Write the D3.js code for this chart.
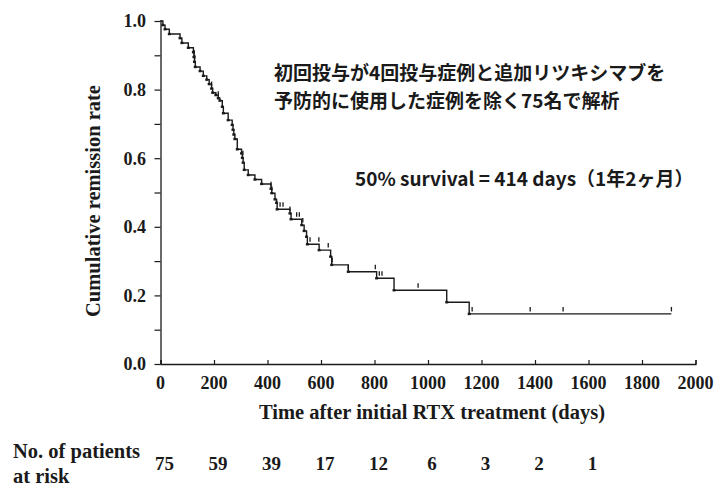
<!DOCTYPE html>
<html>
<head>
<meta charset="utf-8">
<script src="https://cdn.jsdelivr.net/npm/d3@7"></script>
<style>
  html, body { margin: 0; padding: 0; background: #fff; }
  svg { display: block; }
  .serif { font-family: "Liberation Serif", "Times New Roman", serif; font-weight: bold; fill: #1a1a1a; }
  .jp { font-family: "Noto Sans CJK JP", sans-serif; font-weight: bold; fill: #1a1a1a; }
</style>
</head>
<body>
<svg id="chart" width="720" height="487"></svg>
<script>
// Kaplan–Meier steps: day of each drop and the remission rate after it
const stepDays = [9, 17, 33, 73, 80, 104, 123, 125, 127, 130, 148, 160, 173, 182, 191, 195,
  207, 216, 222, 231, 235, 253, 268, 271, 274, 278, 287, 303, 306, 309, 313, 328, 353, 378,
  413, 416, 428, 434, 436, 484, 488, 528, 537, 546, 549, 593, 636, 640, 702, 808, 873, 1070, 1154];
const stepSurv = [0.988, 0.976, 0.962, 0.950, 0.936, 0.922, 0.909, 0.895, 0.881, 0.866, 0.854, 0.840,
  0.829, 0.816, 0.803, 0.791, 0.784, 0.775, 0.768, 0.750, 0.731, 0.711, 0.697, 0.683, 0.669, 0.656,
  0.626, 0.614, 0.601, 0.587, 0.566, 0.551, 0.538, 0.525, 0.511, 0.498, 0.480, 0.470, 0.451, 0.439,
  0.422, 0.405, 0.388, 0.371, 0.349, 0.332, 0.313, 0.289, 0.269, 0.250, 0.215, 0.180, 0.146];
// Censored observations (days)
const censorDays = [126, 128, 191, 216, 308, 413, 416, 447, 458, 484, 509, 519, 532, 559, 592, 627,
  642, 702, 803, 818, 828, 963, 1165, 1382, 1505, 1910];
const lastFollowUp = 1910;

const xTickValues = [0, 200, 400, 600, 800, 1000, 1200, 1400, 1600, 1800, 2000];
const yTickValues = [0.0, 0.2, 0.4, 0.6, 0.8, 1.0];
const yMinorTicks = [0.1, 0.3, 0.5, 0.7, 0.9];

const atRiskDays = [0, 200, 400, 600, 800, 1000, 1200, 1400, 1600];
const atRiskCounts = [75, 59, 39, 17, 12, 6, 3, 2, 1];

const noteLines = ["初回投与が4回投与症例と追加リツキシマブを", "予防的に使用した症例を除く75名で解析"];
const medianNote = "50% survival = 414 days（1年2ヶ月）";

const svg = d3.select("#chart");
const ink = "#1a1a1a";

const x = d3.scaleLinear().domain([0, 2000]).range([160.5, 695.5]);
const y = d3.scaleLinear().domain([0, 1]).range([364, 21]);

// Axes
const xAxis = d3.axisBottom(x).tickValues(xTickValues).tickSize(-4).tickFormat("");
const gx = svg.append("g").attr("transform", `translate(0,${y(0)})`).call(xAxis);
const yAxis = d3.axisLeft(y).tickValues(yTickValues.concat(yMinorTicks)).tickSize(6).tickFormat("");
const gy = svg.append("g").attr("transform", `translate(${x(0)},0)`).call(yAxis);
[gx, gy].forEach(g => {
  g.select(".domain").attr("stroke", ink).attr("stroke-width", 1.3);
  g.selectAll(".tick line").attr("stroke", ink).attr("stroke-width", 1.2);
});
gy.select(".domain").attr("d", `M0.5,${y(0)}V${y(1) - 1}`);

// Tick labels
svg.append("g").selectAll("text").data(xTickValues).join("text")
  .attr("class", "serif").attr("x", d => x(d)).attr("y", 389)
  .attr("text-anchor", "middle").attr("font-size", 18).text(d => d);
svg.append("g").selectAll("text").data(yTickValues).join("text")
  .attr("class", "serif").attr("x", 146).attr("y", d => y(d)).attr("dy", "0.35em")
  .attr("text-anchor", "end").attr("font-size", 18).text(d => d.toFixed(1));

// Axis titles
svg.append("text").attr("class", "serif").attr("x", 432).attr("y", 419)
  .attr("text-anchor", "middle").attr("font-size", 20.5)
  .text("Time after initial RTX treatment (days)");
svg.append("text").attr("class", "serif")
  .attr("transform", "translate(100,201) rotate(-90)")
  .attr("text-anchor", "middle").attr("font-size", 20.5)
  .text("Cumulative remission rate");

// Survival step curve
const pts = [[0, 1]].concat(stepDays.map((d, i) => [d, stepSurv[i]]));
pts.push([lastFollowUp, stepSurv[stepSurv.length - 1]]);
const line = d3.line().x(d => x(d[0])).y(d => y(d[1])).curve(d3.curveStepAfter);
svg.append("path").attr("d", line(pts)).attr("fill", "none")
  .attr("stroke", ink).attr("stroke-width", 1.4);

// Small blobs at the foot of each drop
svg.append("g").selectAll("rect").data(stepDays.map((d, i) => [d, stepSurv[i]])).join("rect")
  .attr("x", d => x(d[0]) - 1.5).attr("y", d => y(d[1]) - 1.2)
  .attr("width", 3).attr("height", 2.4).attr("fill", ink);

// Censor marks
const survAt = t => {
  const i = d3.bisectRight(stepDays, t);
  return i === 0 ? 1 : stepSurv[i - 1];
};
svg.append("g").selectAll("line").data(censorDays).join("line")
  .attr("x1", d => x(d)).attr("x2", d => x(d))
  .attr("y1", d => y(survAt(d)) - 7).attr("y2", d => y(survAt(d)) - 2.5)
  .attr("stroke", ink).attr("stroke-width", 1.3);

// Annotations
svg.append("g").selectAll("text").data(noteLines).join("text")
  .attr("class", "jp").attr("x", 274).attr("y", (d, i) => 80 + i * 28)
  .attr("font-size", 19).text(d => d);
svg.append("text").attr("class", "jp").attr("x", 355).attr("y", 186)
  .attr("font-size", 19).text(medianNote);

// Numbers at risk
svg.append("text").attr("class", "serif").attr("x", 13).attr("y", 458)
  .attr("font-size", 20.5).text("No. of patients");
svg.append("text").attr("class", "serif").attr("x", 13).attr("y", 483)
  .attr("font-size", 20.5).text("at risk");
svg.append("g").selectAll("text").data(atRiskCounts).join("text")
  .attr("class", "serif").attr("x", (d, i) => x(atRiskDays[i]) + 4).attr("y", 470)
  .attr("text-anchor", "middle").attr("font-size", 19).text(d => d);
</script>
</body>
</html>
